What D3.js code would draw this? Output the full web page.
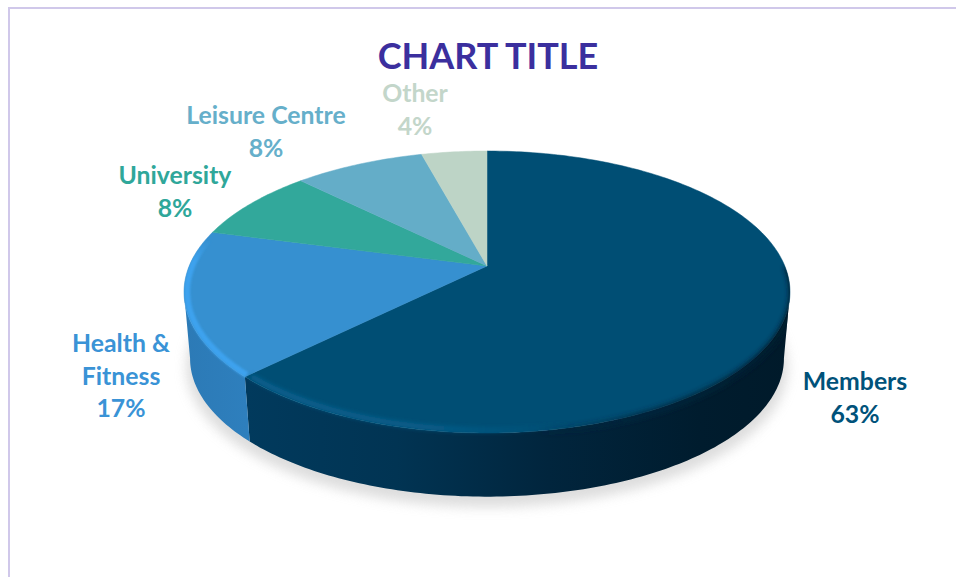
<!DOCTYPE html>
<html><head><meta charset="utf-8">
<script src="https://cdn.jsdelivr.net/npm/d3@7"></script>
<style>html,body{margin:0;padding:0;background:#fff;overflow:hidden}svg{display:block}text{font-family:Lato,"Open Sans",sans-serif;font-weight:700}</style>
</head><body><svg id="c" width="956" height="577"></svg>
<script>
const categories = ["Members", "Health & Fitness", "University", "Leisure Centre", "Other"];
const values = [15, 4, 2, 2, 1];
const chartTitle = "CHART TITLE";
const topColors = ["#004e74", "#3690d0", "#32a89b", "#64adc8", "#bdd4c6"];
const labelColors = ["#00527a", "#3a93d6", "#2fa79a", "#66afca", "#c3d6ca"];
const labelLines = [["Members"], ["Health &", "Fitness"], ["University"], ["Leisure Centre"], ["Other"]];
const labelPlace = [[855, 390], [121, 352], [175, 184], [266, 124], [415, 102]];

const svg = d3.select("#c");
const defs = svg.append("defs");
const cx = 487, cy = 266, persp = 0.1844, A = 136.2, B = 297.8;
const depth = 67, shrink = 0.98;
const total = d3.sum(values);

function proj(theta, r = 1, d = 0) {
  const u = r * Math.sin(theta), v = r * Math.cos(theta);
  const w = 1 + persp * v, s = d ? shrink : 1;
  return [cx + s * B * u / w, cy - s * A * v / w + d];
}
const pieData = d3.pie().sort(null).value(d => d)(values);
const lineGen = d3.line();
const arcPts = (a0, a1, r = 1, d = 0) => {
  const n = Math.max(2, Math.ceil((a1 - a0) * 60));
  return d3.range(n + 1).map(i => proj(a0 + (a1 - a0) * i / n, r, d));
};

/* filters */
const addBlur = (id, s) => defs.append("filter").attr("id", id)
  .attr("x", "-20%").attr("y", "-20%").attr("width", "140%").attr("height", "140%")
  .append("feGaussianBlur").attr("stdDeviation", s);
addBlur("shadow", 6); addBlur("soft", 2); addBlur("soft2", 1.3); addBlur("soft3", 2.5);

/* gradients */
const addGrad = (id, stops, x1 = 185, x2 = 791, y1 = 0, y2 = 0) => {
  const g = defs.append("linearGradient").attr("id", id).attr("gradientUnits", "userSpaceOnUse")
    .attr("x1", x1).attr("x2", x2).attr("y1", y1).attr("y2", y2);
  stops.forEach(s => g.append("stop").attr("offset", s[0]).attr("stop-color", s[1]).attr("stop-opacity", s[2] === undefined ? 1 : s[2]));
};
addGrad("sideMembers", [[0.1, "#013a5d"], [0.35, "#013453"], [0.6, "#01253d"], [0.85, "#001c2e"], [1, "#001a2a"]]);
addGrad("sideHealth", [[0, "#2c7ab6"], [0.1, "#2e7fbd"], [0.2, "#3488c8"]]);
addGrad("rimMembers", [[0.1, "#0b6596", 0.85], [0.4, "#0b6596", 0.7], [0.56, "#0a5f8c", 0.25], [0.64, "#004e74", 0], [1, "#004e74", 0]]);
addGrad("rimDark", [[0.58, "#00273f", 0], [0.75, "#00273f", 0.8], [1, "#001c2e", 1]]);
addGrad("rimHealth", [[0, "#3da2ee", 0], [0.35, "#3da2ee", 1], [1, "#3da2ee", 1]], 0, 0, 240, 300);

/* shadow under the disc */
svg.append("path")
  .attr("d", lineGen(arcPts(0, 2 * Math.PI, 1.012, depth + 8)) + "Z")
  .attr("fill", "#cfcfcf").attr("opacity", 0.7).attr("filter", "url(#shadow)");

/* side wall: drawn between the two widest points of the disc, the top face covers the rest */
const front0 = Math.PI * 0.5 + persp, front1 = Math.PI * 1.5 - persp;
const wallPath = (a0, a1) => lineGen(arcPts(a0, a1, 1, 0).concat(arcPts(a0, a1, 1, depth).reverse())) + "Z";
[[pieData[0], "url(#sideMembers)"], [pieData[1], "url(#sideHealth)"]].forEach(([p, fill]) => {
  const a0 = Math.max(p.startAngle, front0), a1 = Math.min(p.endAngle, front1);
  svg.append("path").attr("d", wallPath(a0, a1)).attr("fill", fill);
});

/* clip that keeps the soft rim inside the disc outline */
const clip = defs.append("clipPath").attr("id", "discClip");
clip.append("path").attr("d", lineGen(arcPts(0, 2 * Math.PI)) + "Z");
clip.append("path").attr("d", wallPath(front0, front1));

/* top face */
const topFace = svg.append("g");
pieData.forEach((p, i) => {
  const pts = [[cx, cy]].concat(arcPts(p.startAngle, p.endAngle));
  topFace.append("path").attr("d", lineGen(pts) + "Z").attr("fill", topColors[i])
    .attr("stroke", topColors[i]).attr("stroke-width", 0.5);
});

/* bevel along the front rim */
const bevel = svg.append("g").attr("clip-path", "url(#discClip)");
const m = pieData[0], h = pieData[1];
bevel.append("path").attr("d", lineGen(arcPts(h.startAngle + 0.005, h.endAngle - 0.02, 0.99)))
  .attr("fill", "none").attr("stroke", "url(#rimHealth)").attr("stroke-width", 6).attr("filter", "url(#soft2)");
bevel.append("path").attr("d", lineGen(arcPts(Math.PI * 0.5, m.endAngle - 0.01, 1.008)))
  .attr("fill", "none").attr("stroke", "url(#rimDark)").attr("stroke-width", 7).attr("filter", "url(#soft3)");
bevel.append("path").attr("d", lineGen(arcPts(Math.PI * 0.75, m.endAngle - 0.01, 0.985)))
  .attr("fill", "none").attr("stroke", "url(#rimMembers)").attr("stroke-width", 5).attr("filter", "url(#soft)");

/* title and data labels */
svg.append("text").attr("x", 488).attr("y", 69).attr("text-anchor", "middle")
  .attr("font-size", 36).attr("fill", "#3b2f9e").text(chartTitle);

labelLines.forEach((lines, i) => {
  const t = svg.append("text").attr("text-anchor", "middle").attr("font-size", 24.8).attr("fill", labelColors[i]);
  const pct = Math.round(values[i] / total * 100) + "%";
  lines.concat([pct]).forEach((s, j) => {
    t.append("tspan").attr("x", labelPlace[i][0]).attr("y", labelPlace[i][1] + j * 32.5).text(s);
  });
});

/* chart frame: top and left edges */
const frame = d3.path();
frame.moveTo(956, 8); frame.lineTo(9, 8); frame.lineTo(9, 577);
svg.append("path").attr("d", frame.toString()).attr("fill", "none").attr("stroke", "#d0c8ea").attr("stroke-width", 2);
</script></body></html>
